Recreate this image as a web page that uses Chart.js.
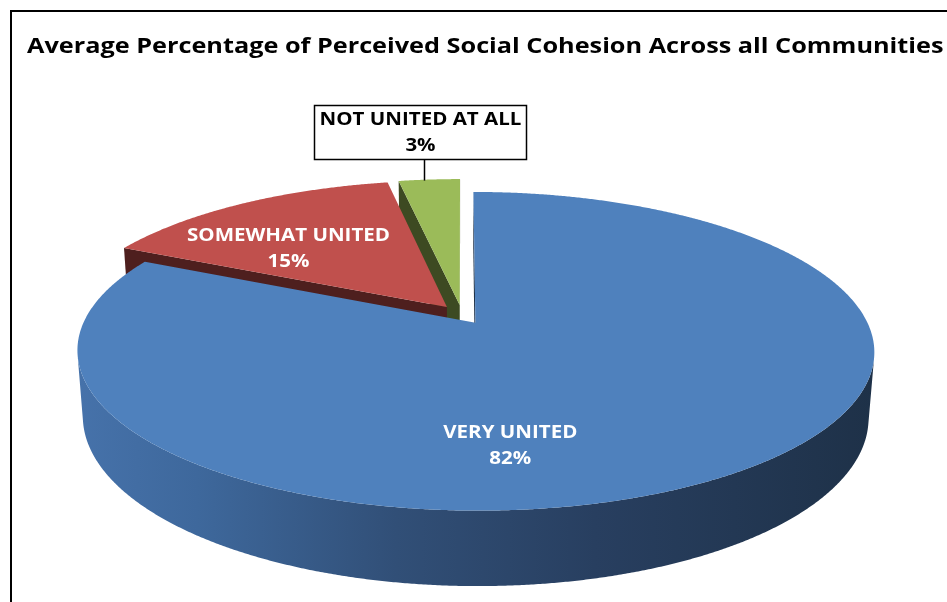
<!DOCTYPE html>
<html>
<head>
<meta charset="utf-8">
<script src="https://cdn.jsdelivr.net/npm/chart.js@4"></script>
<style>
html,body{margin:0;padding:0;background:#ffffff;}
#c{display:block;}
</style>
</head>
<body>
<canvas id="c" width="947" height="602"></canvas>
<script>
// ---- data ----
const chartTitle = 'Average Percentage of Perceived Social Cohesion Across all Communities';
const categories = ['VERY UNITED', 'SOMEWHAT UNITED', 'NOT UNITED AT ALL'];
const percentValues = [82, 15, 3];

// ---- styles ----
const topColors = ['#4f81bd', '#c0504d', '#9bbb59'];
const wallColors = ['#1f3249', '#4e1f1e', '#3d4a22'];
const blueWallGradient = [[0, '#4672aa'], [0.15, '#3e689c'], [0.4, '#314f77'], [0.65, '#283f60'], [1, '#1e3148']];

const framePlugin = {
  id: 'frame',
  beforeDraw(chart) {
    const ctx = chart.ctx;
    ctx.save();
    ctx.fillStyle = '#ffffff';
    ctx.fillRect(0, 0, chart.width, chart.height);
    ctx.fillStyle = '#000000';
    ctx.fillRect(10, 10, chart.width - 10, 2);
    ctx.fillRect(10, 10, 2, chart.height - 10);
    ctx.restore();
  },
  afterDraw(chart, args, o) {
    const ctx = chart.ctx;
    ctx.save();
    ctx.fillStyle = '#000000';
    ctx.font = o.titleFont;
    ctx.textAlign = 'left';
    ctx.textBaseline = 'alphabetic';
    ctx.translate(o.titleX, o.titleY);
    ctx.scale(o.stretch, 1);
    ctx.fillText(chartTitle, 0, 0);
    ctx.restore();
  }
};

const pie3d = {
  id: 'pie3d',
  beforeDatasetsDraw(chart, args, o) {
    const ctx = chart.ctx;
    const meta = chart.getDatasetMeta(0);
    const s = Math.sin(o.tilt), c = Math.cos(o.tilt);
    const proj = (X, Z, h) => {
      const d = o.dist - h * s - Z * c;
      return [o.cx + X * o.focal / d, o.cy + (Z * s - h * c) * o.focal / d];
    };
    const camZ = o.dist * c;
    const H = o.depth;
    const faces = [], tops = [];
    chart._pie3dGeom = [];
    meta.data.forEach((arc, i) => {
      const p = arc.getProps(['startAngle', 'endAngle'], true);
      const a0 = p.startAngle, a1 = p.endAngle, mid = (a0 + a1) / 2;
      const sx = o.explode * Math.cos(mid), sz = o.explode * Math.sin(mid);
      chart._pie3dGeom.push({ a0, a1, mid, sx, sz, proj });
      const n = Math.max(2, Math.ceil((a1 - a0) / 0.005));
      const rim = [];
      for (let k = 0; k <= n; k++) {
        const a = a0 + (a1 - a0) * k / n;
        rim.push([sx + Math.cos(a), sz + Math.sin(a), a]);
      }
      tops.push({ i, pts: [proj(sx, sz, 0), ...rim.map(q => proj(q[0], q[1], 0))], color: arc.options.backgroundColor });
      let run = [];
      const flush = () => {
        if (run.length > 1) {
          const pts = [...run.map(q => proj(q[0], q[1], 0)), ...run.slice().reverse().map(q => proj(q[0], q[1], -H))];
          const z = run.reduce((acc, q) => acc + q[1], 0) / run.length;
          faces.push({ i, pts, z, outer: true });
        }
        run = [];
      };
      for (const q of rim) {
        const nx = Math.cos(q[2]), nz = Math.sin(q[2]);
        const vis = (0 - q[0]) * nx + (camZ - q[1]) * nz > 0;
        if (vis) run.push(q); else flush();
      }
      flush();
      [[a0, -1], [a1, 1]].forEach(([a, sign]) => {
        const dx = Math.cos(a), dz = Math.sin(a);
        const nx = sign * -Math.sin(a), nz = sign * Math.cos(a);
        const px = sx + 0.5 * dx, pz = sz + 0.5 * dz;
        const vis = (0 - px) * nx + (camZ - pz) * nz > 0;
        if (!vis) return;
        const pts = [proj(sx, sz, 0), proj(sx + dx, sz + dz, 0), proj(sx + dx, sz + dz, -H), proj(sx, sz, -H)];
        faces.push({ i, pts, z: pz, outer: false });
      });
    });
    faces.sort((a, b) => a.z - b.z);
    const fillPoly = (pts) => {
      ctx.beginPath();
      ctx.moveTo(pts[0][0], pts[0][1]);
      for (let k = 1; k < pts.length; k++) ctx.lineTo(pts[k][0], pts[k][1]);
      ctx.closePath();
      ctx.fill();
    };
    ctx.save();
    faces.forEach(f => {
      if (f.outer && f.i === 0) {
        let minX = Infinity, maxX = -Infinity;
        f.pts.forEach(q => { minX = Math.min(minX, q[0]); maxX = Math.max(maxX, q[0]); });
        const g = ctx.createLinearGradient(minX, 0, maxX, 0);
        blueWallGradient.forEach(st => g.addColorStop(st[0], st[1]));
        ctx.fillStyle = g;
      } else {
        ctx.fillStyle = wallColors[f.i];
      }
      fillPoly(f.pts);
    });
    tops.forEach(t => { ctx.fillStyle = t.color; fillPoly(t.pts); });
    ctx.restore();
    return false;
  },
  afterDraw(chart, args, o) {
    const geom = chart._pie3dGeom;
    if (!geom) return;
    const ctx = chart.ctx;
    const total = percentValues.reduce((a, b) => a + b, 0);
    const text = (str, x, y) => {
      ctx.save();
      ctx.translate(x, y);
      ctx.scale(o.stretch, 1);
      ctx.fillText(str, 0, 0);
      ctx.restore();
    };
    ctx.save();
    ctx.font = o.labelFont;
    ctx.textAlign = 'center';
    ctx.textBaseline = 'middle';
    geom.forEach((g, i) => {
      const lines = [categories[i], Math.round(percentValues[i] / total * 100) + '%'];
      if (i < 2) {
        const r = o.labelRadius[i];
        const [x, y] = g.proj(g.sx + r * Math.cos(g.mid), g.sz + r * Math.sin(g.mid), 0);
        const px = x + o.labelNudge[i][0], py = y + o.labelNudge[i][1];
        ctx.fillStyle = '#ffffff';
        text(lines[0], px, py - o.lineGap / 2);
        text(lines[1], px, py + o.lineGap / 2);
      } else {
        const [x, y] = g.proj(g.sx + Math.cos(g.mid), g.sz + Math.sin(g.mid), 0);
        const lx = Math.round(x) - 4.5;
        const boxBottom = Math.round(y - o.leader) + 0.5;
        const bw = o.box[0], bh = o.box[1];
        const bx = Math.round(lx - 5 - bw / 2) + 0.5;
        ctx.strokeStyle = '#000000';
        ctx.lineWidth = 1.5;
        ctx.beginPath();
        ctx.moveTo(lx, y + 1);
        ctx.lineTo(lx, boxBottom);
        ctx.stroke();
        ctx.fillStyle = '#ffffff';
        ctx.fillRect(bx, boxBottom - bh, bw, bh);
        ctx.strokeRect(bx, boxBottom - bh, bw, bh);
        ctx.fillStyle = '#000000';
        const cx = bx + bw / 2, cy = boxBottom - bh / 2;
        text(lines[0], cx, cy - o.lineGap / 2);
        text(lines[1], cx, cy + o.lineGap / 2);
      }
    });
    ctx.restore();
  }
};

new Chart(document.getElementById('c'), {
  type: 'pie',
  data: {
    labels: categories,
    datasets: [{
      data: percentValues,
      backgroundColor: topColors,
      borderWidth: 0
    }]
  },
  options: {
    responsive: false,
    animation: false,
    devicePixelRatio: 1,
    layout: { padding: { left: 28, right: 0, top: 70, bottom: 0 } },
    plugins: {
      legend: { display: false },
      tooltip: { enabled: false },
      title: { display: false },
      frame: {
        titleFont: 'bold 22px "Open Sans", sans-serif',
        titleX: 27,
        titleY: 53,
        stretch: 1.148
      },
      pie3d: {
        tilt: 0.4003,
        dist: 5.195,
        focal: 2017,
        depth: 0.182,
        cx: 462,
        cy: 314.5,
        explode: 0.064,
        stretch: 1.14,
        labelFont: 'bold 18px "Open Sans", sans-serif',
        lineGap: 26,
        labelRadius: [0.65, 0.63],
        labelNudge: [[-118, 29], [-23, 10]],
        leader: 21,
        box: [212, 54]
      }
    }
  },
  plugins: [framePlugin, pie3d]
});
</script>
</body>
</html>
